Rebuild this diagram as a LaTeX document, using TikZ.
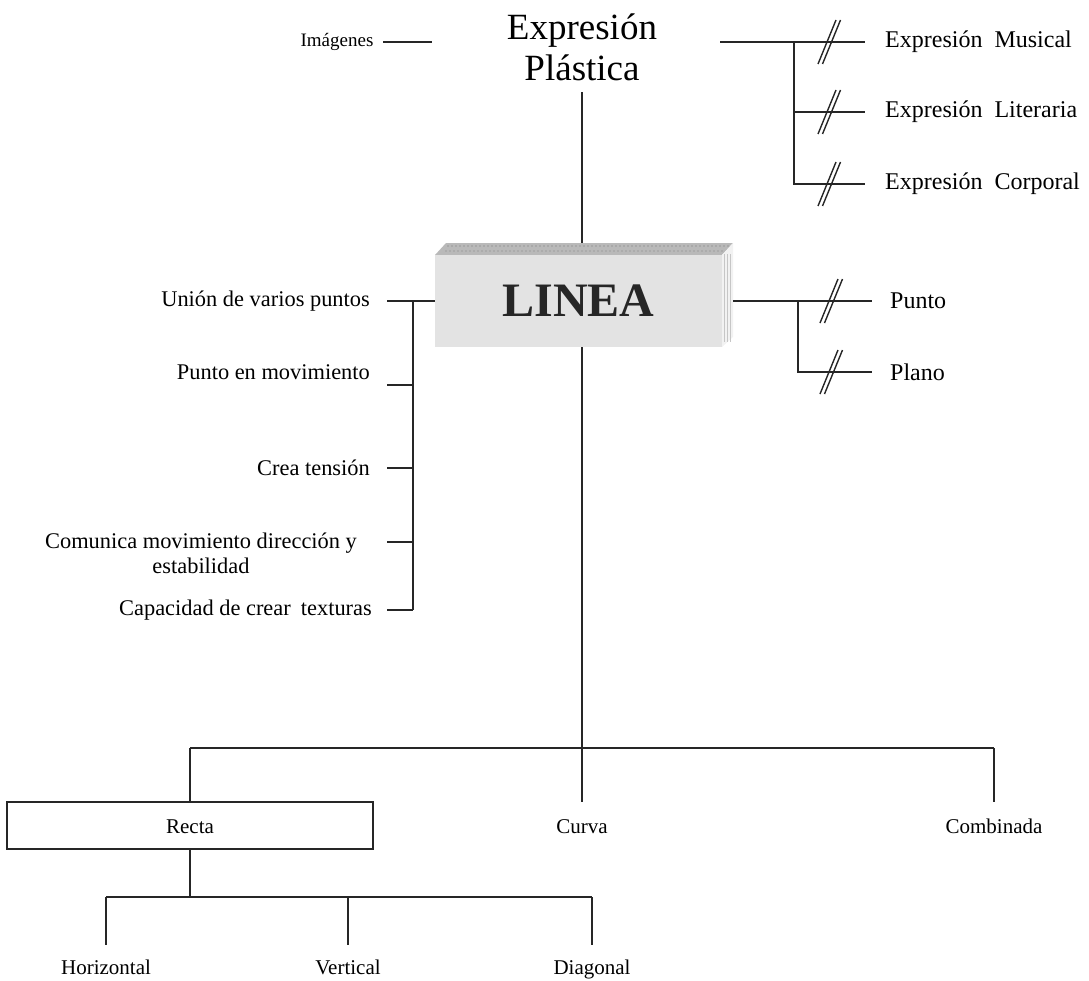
\documentclass[tikz,border=0pt]{standalone}
\usepackage{fontspec}
\setmainfont{Liberation Serif}
\begin{document}
\begin{tikzpicture}[x=1pt,y=-1pt,
  conn/.style={line width=1.1pt, black!85},
  rlbl/.style={font=\fontsize{24}{28}\selectfont, inner sep=0pt, anchor=west},
  llbl/.style={font=\fontsize{22.4}{26}\selectfont, inner sep=0pt, anchor=east},
  blbl/.style={font=\fontsize{21}{24}\selectfont, inner sep=0pt, anchor=base},
  dslash/.pic={\draw[line width=1.4pt, black!85] (-11,22) -- (7,-22) (-6.5,22) -- (11.5,-22);}
]
\useasboundingbox (0,0) rectangle (1089,980);

% ---- title ----
\node[font=\fontsize{37}{41}\selectfont, align=center, inner sep=0pt] (expr) at (582,47) {Expresión\\Plástica};
\node[font=\fontsize{19}{23}\selectfont, inner sep=0pt] (img) at (337,42) {Imágenes};
\coordinate (imgA) at (383,42);
\coordinate (imgB) at (432,42);
\draw[conn] (imgA) -- (imgB);

% ---- right of title ----
\node[rlbl] (mus) at (885,42) {Expresión\hspace{0.5em}Musical};
\node[rlbl] (lit) at (885,112) {Expresión\hspace{0.5em}Literaria};
\node[rlbl] (cor) at (885,184) {Expresión\hspace{0.5em}Corporal};
\coordinate (eR) at (720,42);
\coordinate (eJ) at (794,42);
\draw[conn] (eR) -- ([xshift=-20pt]mus.west);
\draw[conn] (eJ) |- ([xshift=-20pt]cor.west);
\draw[conn] (eJ |- lit.west) -- ([xshift=-20pt]lit.west);
\pic at ([xshift=-56pt]mus.west) {dslash};
\pic at ([xshift=-56pt]lit.west) {dslash};
\pic at ([xshift=-56pt]cor.west) {dslash};

% ---- LINEA box ----
\fill[gray!55] (435,255) -- (446,243) -- (733,243) -- (722,255) -- cycle;
\foreach \k in {448,452,...,730} \fill[gray!80] (\k,246) circle (0.9);
\foreach \k in {446,450,...,724} \fill[gray!75] (\k,251) circle (0.9);
\fill[gray!10] (722,255) -- (733,243) -- (733,337) -- (722,347) -- cycle;
\foreach \k in {724.5,727.5,730.5} \draw[gray!45, line width=0.4pt] (\k,254) -- (\k,342);
\node[fill=gray!22, minimum width=287pt, minimum height=92pt, inner sep=0pt,
      font=\fontsize{48}{48}\selectfont\bfseries, text=black!85] (linea) at (578.5,301) {LINEA};
\coordinate (exprBot) at (582,92);
\coordinate (lineaTop) at (582,243);
\draw[conn] (exprBot) -- (lineaTop);

% ---- right of box ----
\node[rlbl] (pun) at (890,301) {Punto};
\node[rlbl] (pla) at (890,372) {Plano};
\coordinate (bR) at (733,301);
\coordinate (bJ) at (798,301);
\draw[conn] (bR) -- ([xshift=-18pt]pun.west);
\draw[conn] (bJ) |- ([xshift=-18pt]pla.west);
\pic at ([xshift=-59pt]pun.west) {dslash};
\pic at ([xshift=-59pt]pla.west) {dslash};

% ---- left of box ----
\node[llbl] (uni) at (370,301) {Unión de varios puntos};
\node[llbl] (pm) at (370,372) {Punto en movimiento};
\node[llbl] (ct) at (370,468) {Crea tensión};
\node[font=\fontsize{22.4}{25}\selectfont, inner sep=0pt, align=center] (com) at (201,553) {Comunica movimiento dirección y\\estabilidad};
\node[llbl] (cap) at (372,610) {Capacidad de crear\hspace{0.45em}texturas};
\coordinate (lJ) at (413,301);
\coordinate (lB) at (413,610);
\coordinate (s2) at (387,385);
\coordinate (s3) at (387,468);
\coordinate (s4) at (387,542);
\coordinate (s5) at (387,610);
\draw[conn] (linea.west) -- ([xshift=17pt]uni.east);
\draw[conn] (lJ) -- (lB);
\draw[conn] (s2) -- (s2 -| lJ);
\draw[conn] (s3) -- (s3 -| lJ);
\draw[conn] (s4) -- (s4 -| lJ);
\draw[conn] (s5) -- (lB);

% ---- bottom tree ----
\coordinate (lineaBot) at (582,347);
\coordinate (mJ) at (582,748);
\coordinate (bLft) at (190,748);
\coordinate (bRgt) at (994,748);
\coordinate (cuD) at (582,802);
\coordinate (coD) at (994,802);
\draw[conn] (lineaBot) -- (mJ);
\draw[conn] (bLft) -- (bRgt);
\draw[conn] (mJ) -- (cuD);
\draw[conn] (bRgt) -- (coD);
\node[draw=black!85, line width=1.1pt, minimum width=366pt, minimum height=47pt, inner sep=0pt] (recta) at (190,825.5) {};
\node[blbl] (rectaT) at (190,833) {Recta};
\node[blbl] (cur) at (582,833) {Curva};
\node[blbl] (comb) at (994,833) {Combinada};
\draw[conn] (bLft) -- (recta.north);

\coordinate (rJ) at (190,897);
\coordinate (hJ) at (106,897);
\coordinate (vJ) at (348,897);
\coordinate (dJ) at (592,897);
\coordinate (hD) at (106,945);
\coordinate (vD) at (348,945);
\coordinate (dD) at (592,945);
\draw[conn] (recta.south) -- (rJ);
\draw[conn] (hJ) -- (dJ);
\draw[conn] (hJ) -- (hD);
\draw[conn] (vJ) -- (vD);
\draw[conn] (dJ) -- (dD);
\node[blbl] (hor) at (106,974) {Horizontal};
\node[blbl] (ver) at (348,974) {Vertical};
\node[blbl] (dia) at (592,974) {Diagonal};
\end{tikzpicture}
\end{document}
